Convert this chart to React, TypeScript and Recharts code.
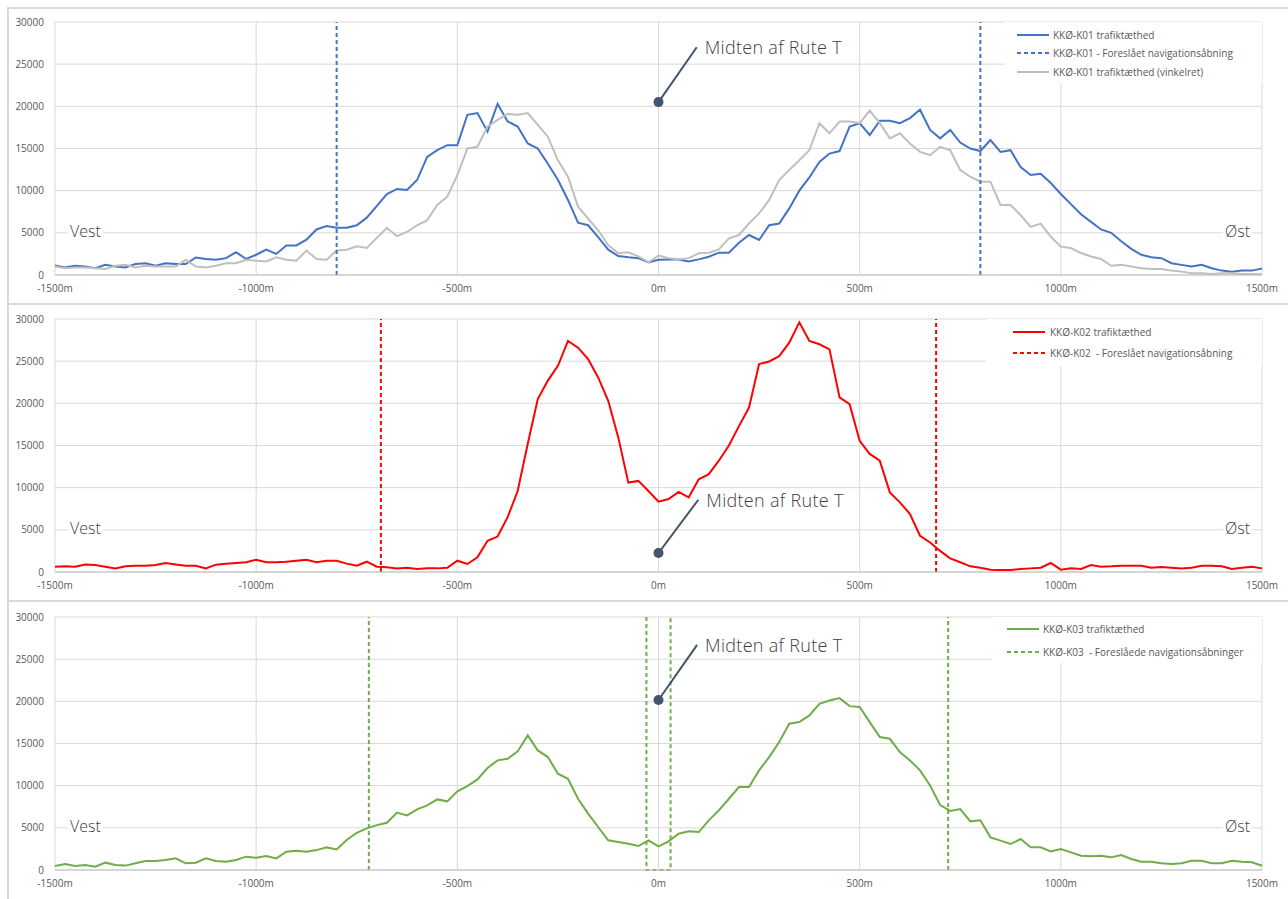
import React from 'react';
import { LineChart, Line, XAxis, YAxis, CartesianGrid, ReferenceLine, ReferenceDot } from 'recharts';

// afstand fra midten af rute T (m)
const distances = [
  -1500, -1475, -1450, -1425, -1400, -1375, -1350, -1325, -1300, -1275, -1250, -1225, -1200, -1175, -1150, -1125,
  -1100, -1075, -1050, -1025, -1000, -975, -950, -925, -900, -875, -850, -825, -800, -775, -750, -725,
  -700, -675, -650, -625, -600, -575, -550, -525, -500, -475, -450, -425, -400, -375, -350, -325,
  -300, -275, -250, -225, -200, -175, -150, -125, -100, -75, -50, -25, 0, 25, 50, 75,
  100, 125, 150, 175, 200, 225, 250, 275, 300, 325, 350, 375, 400, 425, 450, 475,
  500, 525, 550, 575, 600, 625, 650, 675, 700, 725, 750, 775, 800, 825, 850, 875,
  900, 925, 950, 975, 1000, 1025, 1050, 1075, 1100, 1125, 1150, 1175, 1200, 1225, 1250, 1275,
  1300, 1325, 1350, 1375, 1400, 1425, 1450, 1475, 1500,
];

const k01 = [
  1120, 880, 1100, 1000, 800, 1200, 1000, 900, 1300, 1400, 1100, 1400, 1300, 1300, 2080, 1900,
  1800, 2000, 2700, 1900, 2400, 3000, 2500, 3500, 3500, 4200, 5400, 5800, 5600, 5600, 5900, 6800,
  8200, 9600, 10200, 10070, 11260, 14000, 14800, 15400, 15400, 19000, 19200, 17000, 20300, 18200, 17600, 15600,
  15000, 13200, 11300, 8900, 6200, 5900, 4500, 3000, 2250, 2100, 2000, 1500, 1800, 1850, 1850, 1600,
  1850, 2170, 2650, 2650, 3830, 4740, 4150, 5900, 6100, 7900, 10000, 11570, 13400, 14400, 14700, 17600,
  18000, 16600, 18300, 18300, 18000, 18600, 19600, 17200, 16200, 17200, 15700, 15000, 14700, 16000, 14600, 14800,
  12800, 11850, 12000, 10900, 9600, 8400, 7200, 6300, 5400, 5000, 4000, 3100, 2400, 2100, 2000, 1400,
  1200, 1000, 1200, 800, 520, 400, 520, 520, 760,
];

const k01Vinkelret = [
  1000, 800, 880, 900, 800, 700, 1100, 1200, 900, 1100, 1000, 1000, 1000, 1800, 1000, 900,
  1100, 1400, 1400, 1800, 1700, 1600, 2100, 1800, 1700, 2900, 1900, 1800, 2900, 3000, 3400, 3200,
  4400, 5600, 4600, 5100, 5900, 6500, 8300, 9300, 11850, 15000, 15200, 17600, 18400, 19100, 19000, 19200,
  17800, 16400, 13600, 11650, 8100, 6700, 5300, 3550, 2570, 2700, 2200, 1500, 2300, 2000, 1850, 2000,
  2570, 2650, 3040, 4350, 4740, 6100, 7300, 8900, 11250, 12450, 13600, 14800, 18000, 16800, 18200, 18200,
  18000, 19500, 18000, 16200, 16800, 15600, 14600, 14200, 15200, 14800, 12450, 11650, 11060, 11060, 8300, 8300,
  7100, 5700, 6100, 4540, 3360, 3200, 2600, 2200, 1900, 1100, 1200, 1000, 800, 700, 700, 520,
  400, 200, 200, 120, 200, 200, 120, 120, 80,
];

const k02 = [
  630, 670, 630, 900, 830, 630, 430, 670, 750, 750, 830, 1070, 900, 750, 750, 430,
  870, 990, 1070, 1150, 1460, 1150, 1150, 1220, 1340, 1460, 1150, 1340, 1340, 990, 750, 1220,
  630, 550, 430, 510, 360, 430, 430, 510, 1340, 950, 1740, 3700, 4200, 6500, 9600, 15200,
  20500, 22700, 24450, 27400, 26600, 25240, 23070, 20300, 15960, 10600, 10800, 9600, 8330, 8650, 9500, 8850,
  11000, 11600, 13200, 15000, 17300, 19500, 24650, 24960, 25600, 27200, 29600, 27400, 27000, 26400, 20700, 19900,
  15560, 14000, 13200, 9440, 8260, 6870, 4300, 3500, 2500, 1620, 1150, 670, 510, 280, 240, 240,
  360, 430, 510, 1070, 280, 430, 360, 830, 630, 670, 750, 750, 750, 510, 590, 510,
  430, 510, 750, 750, 670, 360, 510, 630, 430,
];

const k03 = [
  470, 710, 470, 590, 390, 870, 590, 520, 790, 1060, 1060, 1180, 1380, 790, 870, 1380,
  1060, 990, 1180, 1580, 1460, 1650, 1380, 2170, 2290, 2170, 2360, 2680, 2440, 3550, 4410, 4930,
  5320, 5600, 6800, 6480, 7190, 7660, 8370, 8140, 9320, 9950, 10740, 12090, 13000, 13190, 14060, 15960,
  14180, 13390, 11420, 10820, 8450, 6680, 5100, 3520, 3320, 3120, 2840, 3520, 2800, 3400, 4300, 4580,
  4500, 5890, 7070, 8450, 9840, 9840, 11810, 13390, 15170, 17340, 17540, 18330, 19710, 20100, 20380, 19430,
  19320, 17540, 15760, 15560, 13980, 13000, 11810, 10030, 7700, 7000, 7230, 5770, 5900, 3870, 3480, 3080,
  3670, 2690, 2690, 2210, 2490, 2090, 1700, 1620, 1700, 1500, 1780, 1300, 990, 990, 790, 710,
  790, 1100, 1100, 790, 790, 1100, 990, 910, 510,
];

// foreslåede navigationsåbninger (m)
const k01Openings = [-800, 800];
const k02Openings = [-690, 690];
const k03Openings = [-720, 720];
const k03InnerOpening = [-30, 30];

const xTicks = [-1500, -1000, -500, 0, 500, 1000, 1500];
const yTicks = [0, 5000, 10000, 15000, 20000, 25000, 30000];
const Y_MAX = 30000;

const BLUE = '#4472c4';
const GREY = '#bfbfbf';
const RED = '#ff0000';
const GREEN = '#70ad47';
const NOTE = '#44546a';
const TICK = { fill: '#595959', fontSize: 10 };

const rows = distances.map((x, i) => ({ x, k01: k01[i], k01v: k01Vinkelret[i], k02: k02[i], k03: k03[i] }));

const vertical = (x: number) => [{ x, y: 0 }, { x, y: Y_MAX }];
const uShape = (a: number, b: number) => [{ x: a, y: Y_MAX }, { x: a, y: 0 }, { x: b, y: 0 }, { x: b, y: Y_MAX }];

type Dashed = { data: { x: number; y: number }[] };
type Solid = { key: string; color: string };
type LegendItem = { label: string; color: string; dashed?: boolean };

const PLOT_TOP = 22;

function Legend({ items, left, height, rowTops, sampleLeft, textLeft }: any) {
  return (
    <div style={{ position: 'absolute', left, top: PLOT_TOP, width: 1262 - left, height, background: '#fff' }}>
      {items.map((it: LegendItem, i: number) => (
        <div key={i} style={{ position: 'absolute', top: rowTops[i] - 8, left: 0, height: 16, width: '100%' }}>
          <svg style={{ position: 'absolute', left: sampleLeft - left, top: 0 }} width={32} height={16}>
            <line x1={0} x2={32} y1={8} y2={8} stroke={it.color} strokeWidth={2} strokeDasharray={it.dashed ? '4 3' : undefined} />
          </svg>
          <span style={{ position: 'absolute', left: textLeft - left, top: 0, lineHeight: '16px', fontSize: 10, color: '#595959', whiteSpace: 'pre' }}>
            {it.label}
          </span>
        </div>
      ))}
    </div>
  );
}

const sideLabel = (text: string, left: number) => (
  <div style={{ position: 'absolute', left, top: PLOT_TOP + 209 - 10, height: 20, lineHeight: '20px', fontSize: 16, color: '#404040', background: '#fff', padding: '0 2px', fontWeight: 300 }}>
    {text}
  </div>
);

function Panel({ top, solids, dashed, dashColor, note, legend }: any) {
  return (
    <div style={{ position: 'absolute', left: 0, top, width: 1288, height: 300 }}>
      <LineChart width={1288} height={300} data={rows} margin={{ top: PLOT_TOP, right: 26, bottom: 5, left: 0 }}>
        <CartesianGrid stroke="#d9d9d9" />
        <XAxis
          type="number"
          dataKey="x"
          domain={[-1500, 1500]}
          ticks={xTicks}
          interval={0}
          tickFormatter={(v: number) => `${v}m`}
          axisLine={{ stroke: '#bfbfbf' }}
          tickLine={false}
          tick={TICK}
          tickMargin={4}
          height={20}
        />
        <YAxis type="number" domain={[0, Y_MAX]} ticks={yTicks} interval={0} width={55} axisLine={false} tickLine={false} tick={TICK} tickMargin={5} />
        {solids.map((s: Solid) => (
          <Line key={s.key} type="linear" dataKey={s.key} stroke={s.color} strokeWidth={2} dot={false} isAnimationActive={false} />
        ))}
        {dashed.map((d: Dashed, i: number) => (
          <Line key={'d' + i} data={d.data} type="linear" dataKey="y" stroke={dashColor} strokeWidth={2} strokeDasharray="4 3" dot={false} isAnimationActive={false} />
        ))}
        <ReferenceLine segment={[{ x: 0, y: note.y }, { x: note.ex, y: note.ey }]} stroke={NOTE} strokeWidth={2} />
        <ReferenceDot x={0} y={note.y} r={5} fill={NOTE} stroke="none" />
        <ReferenceDot
          x={note.ex}
          y={note.ey}
          r={1}
          fill="none"
          stroke="none"
          label={(p: any) => (
            <text x={p.viewBox.x + 9} y={p.viewBox.y + 1} dominantBaseline="central" fontSize={18} fontWeight={300} fill="#404040" letterSpacing={0.3}>
              Midten af Rute T
            </text>
          )}
        />
      </LineChart>
      {sideLabel('Vest', 68)}
      {sideLabel('Øst', 1223)}
      <Legend {...legend} />
    </div>
  );
}

export default function App() {
  return (
    <div style={{ position: 'absolute', left: 0, top: 0, width: 1288, height: 899, background: '#fff', overflow: 'hidden', fontFamily: '"Open Sans", sans-serif' }}>
      <div style={{ position: 'absolute', left: 7, top: 7, width: 1300, height: 900, borderLeft: '2px solid #d9d9d9', borderTop: '2px solid #d9d9d9' }} />
      <div style={{ position: 'absolute', left: 7, top: 303, width: 1300, height: 2, background: '#d9d9d9' }} />
      <div style={{ position: 'absolute', left: 7, top: 600, width: 1300, height: 2, background: '#d9d9d9' }} />

      <Panel
        top={0}
        solids={[{ key: 'k01', color: BLUE }, { key: 'k01v', color: GREY }]}
        dashed={k01Openings.map((x) => ({ data: vertical(x) }))}
        dashColor={BLUE}
        note={{ y: 20500, ex: 95, ey: 27000 }}
        legend={{
          items: [
            { label: 'KKØ-K01 trafiktæthed', color: BLUE },
            { label: 'KKØ-K01 - Foreslået navigationsåbning', color: BLUE, dashed: true },
            { label: 'KKØ-K01 trafiktæthed (vinkelret)', color: GREY },
          ],
          left: 1005,
          height: 61,
          rowTops: [13, 31, 50],
          sampleLeft: 1017,
          textLeft: 1053,
        }}
      />
      <Panel
        top={297}
        solids={[{ key: 'k02', color: RED }]}
        dashed={k02Openings.map((x) => ({ data: vertical(x) }))}
        dashColor={RED}
        note={{ y: 2250, ex: 99, ey: 8570 }}
        legend={{
          items: [
            { label: 'KKØ-K02 trafiktæthed', color: RED },
            { label: 'KKØ-K02  - Foreslået navigationsåbning', color: RED, dashed: true },
          ],
          left: 986,
          height: 47,
          rowTops: [13, 34],
          sampleLeft: 1013,
          textLeft: 1050,
        }}
      />
      <Panel
        top={595}
        solids={[{ key: 'k03', color: GREEN }]}
        dashed={[...k03Openings.map((x) => ({ data: vertical(x) })), { data: uShape(k03InnerOpening[0], k03InnerOpening[1]) }]}
        dashColor={GREEN}
        note={{ y: 20160, ex: 96, ey: 26700 }}
        legend={{
          items: [
            { label: 'KKØ-K03 trafiktæthed', color: GREEN },
            { label: 'KKØ-K03  - Foreslåede navigationsåbninger', color: GREEN, dashed: true },
          ],
          left: 992,
          height: 46,
          rowTops: [12, 35],
          sampleLeft: 1007,
          textLeft: 1043,
        }}
      />
    </div>
  );
}
